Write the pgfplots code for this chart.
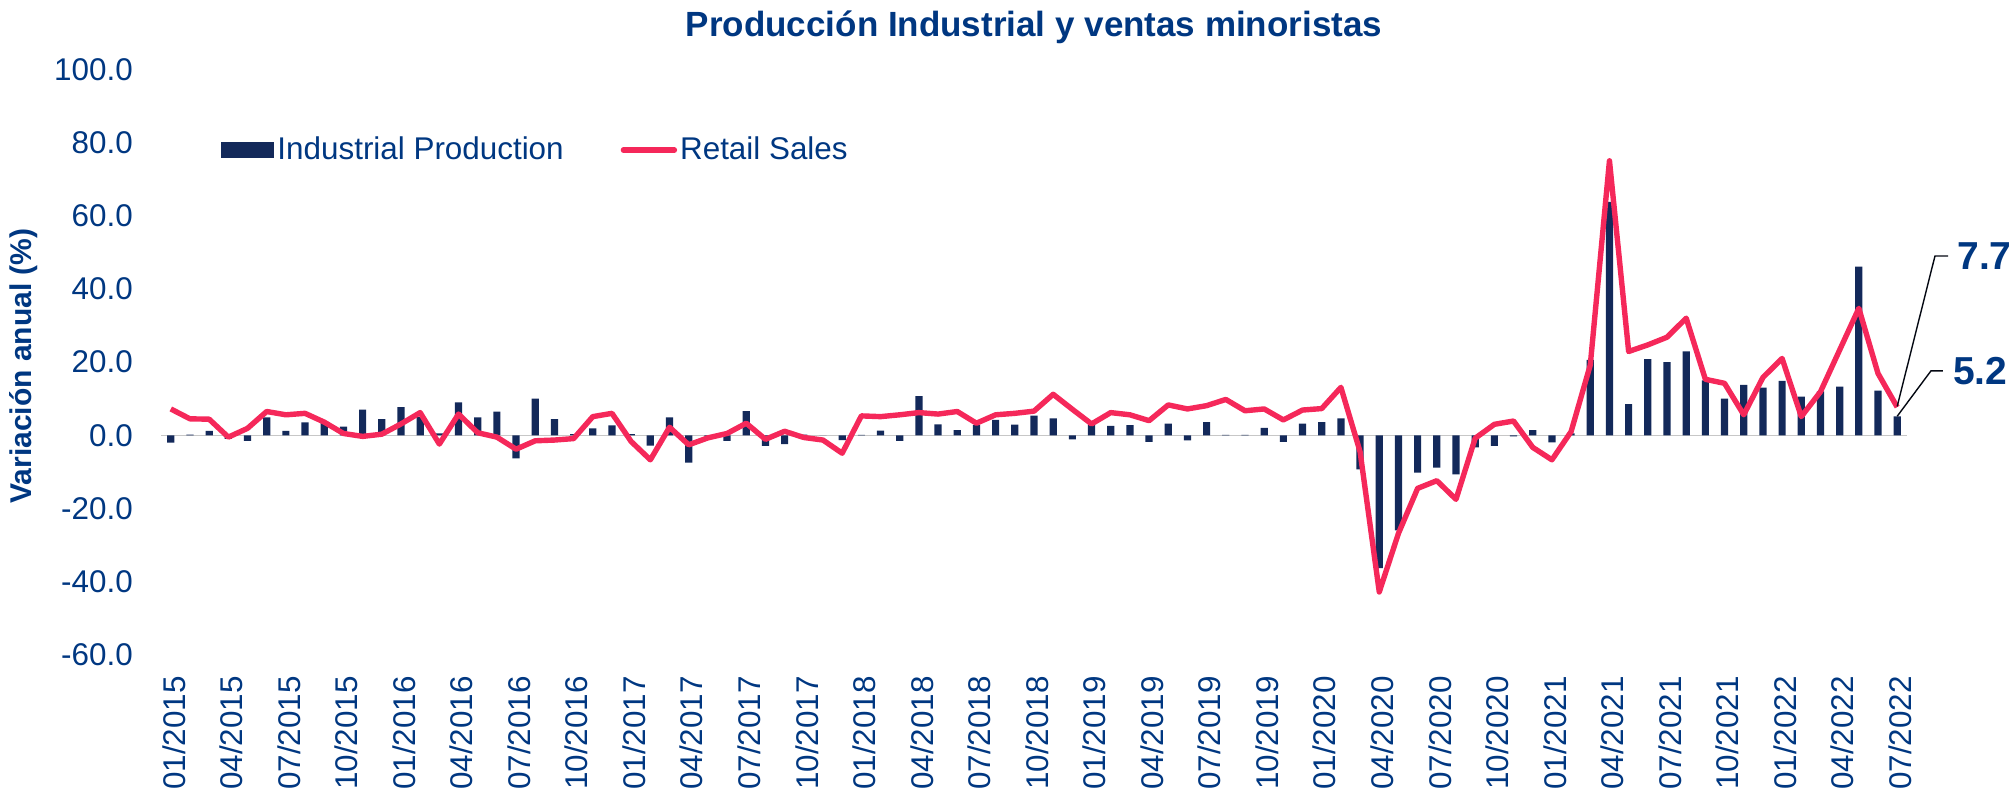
\documentclass[border=0pt]{standalone}
\usepackage{pgfplots}
\pgfplotsset{compat=1.18}
\usepackage{fontspec}
\setmainfont{Liberation Sans}
\definecolor{navy}{RGB}{19,41,90}
\definecolor{pinkred}{RGB}{245,40,90}
\definecolor{txtblue}{RGB}{0,55,129}
\newcommand{\tickfont}{\fontsize{15.7}{18}\selectfont}
\begin{document}
\begin{tikzpicture}
\begin{axis}[
  at={(80.6pt,68.55pt)}, anchor=south west,
  width=872.8pt, height=292.8pt, scale only axis,
  xmin=-0.5, xmax=90.5, ymin=-60, ymax=100,
  clip=false,
  axis line style={draw=none},
  major tick style={draw=none},
  ytick={-60,-40,-20,0,20,40,60,80,100},
  yticklabels={-60.0,-40.0,-20.0,0.0,20.0,40.0,60.0,80.0,100.0},
  yticklabel style={anchor=east, inner sep=0pt, xshift=-14pt, font=\tickfont, text=txtblue},
  xtick={0,3,...,90},
  xticklabels={01/2015,04/2015,07/2015,10/2015,01/2016,04/2016,07/2016,10/2016,01/2017,04/2017,07/2017,10/2017,01/2018,04/2018,07/2018,10/2018,01/2019,04/2019,07/2019,10/2019,01/2020,04/2020,07/2020,10/2020,01/2021,04/2021,07/2021,10/2021,01/2022,04/2022,07/2022},
  xticklabel style={rotate=90, anchor=east, inner sep=0pt, xshift=-10.5pt, yshift=-1.5pt, font=\tickfont, text=txtblue},
  extra y ticks={0}, extra y tick labels={},
  extra y tick style={grid=major, major grid style={black!22, line width=0.6pt}},
  legend columns=2,
  legend style={at={(rel axis cs:0.0343,0.862)}, anchor=west, draw=none, fill=none,
    inner sep=0pt, font=\tickfont, text=txtblue,
    nodes={inner sep=1.5pt},
    /tikz/every even column/.append style={column sep=27pt}},
]
\addplot[ybar, bar width=3.6pt, fill=navy, draw=none,
  legend image code/.code={\fill[navy] (0pt,-4pt) rectangle (26.5pt,4pt);}]
coordinates {
(0,-2.0)(1,0.2)(2,1.2)(3,-1.0)(4,-1.5)(5,4.9)(6,1.2)(7,3.5)(8,3.5)(9,2.4)
(10,7.0)(11,4.4)(12,7.7)(13,5.0)(14,0.5)(15,9.0)(16,4.9)(17,6.5)(18,-6.3)(19,10.0)
(20,4.4)(21,0.3)(22,1.9)(23,2.7)(24,0.3)(25,-2.8)(26,4.9)(27,-7.5)(28,-0.3)(29,-1.5)
(30,6.6)(31,-2.9)(32,-2.4)(33,0.2)(34,0.0)(35,-1.3)(36,0.1)(37,1.3)(38,-1.5)(39,10.7)
(40,3.0)(41,1.4)(42,2.8)(43,4.2)(44,2.9)(45,5.4)(46,4.6)(47,-1.1)(48,2.8)(49,2.6)
(50,2.8)(51,-1.8)(52,3.2)(53,-1.4)(54,3.6)(55,0.1)(56,0.1)(57,2.0)(58,-1.8)(59,3.2)
(60,3.6)(61,4.6)(62,-9.3)(63,-36.3)(64,-26.0)(65,-10.2)(66,-8.8)(67,-10.7)(68,-3.3)(69,-2.9)
(70,-0.3)(71,1.4)(72,-1.9)(73,0.5)(74,20.6)(75,63.8)(76,8.5)(77,20.8)(78,20.0)(79,22.9)
(80,15.0)(81,10.0)(82,13.8)(83,13.0)(84,14.9)(85,10.6)(86,12.0)(87,13.3)(88,46.1)(89,12.2)
(90,5.2)
};
\addlegendentry{Industrial Production}
\addplot[pinkred, line width=2.7pt, line join=round, mark=none,
  legend image code/.code={\draw[pinkred, line width=2.7pt, line cap=round] (0pt,0pt) -- (25.5pt,0pt);}]
coordinates {
(0,7.2)(1,4.5)(2,4.4)(3,-0.5)(4,1.9)(5,6.5)(6,5.6)(7,6.0)(8,3.6)(9,0.5)
(10,-0.3)(11,0.3)(12,3.1)(13,6.2)(14,-2.4)(15,5.8)(16,0.7)(17,-0.5)(18,-3.8)(19,-1.5)
(20,-1.3)(21,-0.9)(22,5.1)(23,6.0)(24,-1.7)(25,-6.7)(26,2.2)(27,-2.6)(28,-0.7)(29,0.5)
(30,3.3)(31,-1.1)(32,1.1)(33,-0.6)(34,-1.3)(35,-4.9)(36,5.3)(37,5.1)(38,5.6)(39,6.2)
(40,5.8)(41,6.5)(42,3.3)(43,5.6)(44,6.0)(45,6.6)(46,11.2)(47,7.1)(48,3.1)(49,6.2)
(50,5.6)(51,4.0)(52,8.3)(53,7.2)(54,8.1)(55,9.8)(56,6.7)(57,7.2)(58,4.2)(59,6.9)
(60,7.3)(61,13.1)(62,-4.5)(63,-42.8)(64,-26.8)(65,-14.5)(66,-12.4)(67,-17.5)(68,-0.8)(69,3.0)
(70,3.9)(71,-3.3)(72,-6.7)(73,1.0)(74,19.2)(75,75.0)(76,22.9)(77,24.7)(78,26.8)(79,32.0)
(80,15.3)(81,14.2)(82,5.6)(83,15.8)(84,21.0)(85,5.1)(86,11.9)(87,23.3)(88,34.7)(89,16.9)
(90,7.7)
};
\addlegendentry{Retail Sales}
\draw[black!80!navy, line width=0.7pt] (axis cs:90,7.9) -- (axis cs:91.97,49) -- (axis cs:92.65,49);
\draw[black!80!navy, line width=0.7pt] (axis cs:90,5.2) -- (axis cs:91.76,17.6) -- (axis cs:92.38,17.6);
\node[anchor=west, inner sep=0pt, text=txtblue, font=\fontsize{19.5}{22}\selectfont\bfseries] at (axis cs:93.12,49) {7.7};
\node[anchor=west, inner sep=0pt, text=txtblue, font=\fontsize{19.5}{22}\selectfont\bfseries] at (axis cs:92.89,17.6) {5.2};
\end{axis}
\node[text=txtblue, font=\fontsize{17.5}{20}\selectfont\bfseries] at (517pt,382.5pt) {Producción Industrial y ventas minoristas};
\node[rotate=90, text=txtblue, font=\fontsize{15}{18}\selectfont\bfseries] at (12pt,213pt) {Variación anual (\%)};
\pgfresetboundingbox
\path[use as bounding box] (0pt,0pt) rectangle (1007pt,396pt);
\end{tikzpicture}
\end{document}
